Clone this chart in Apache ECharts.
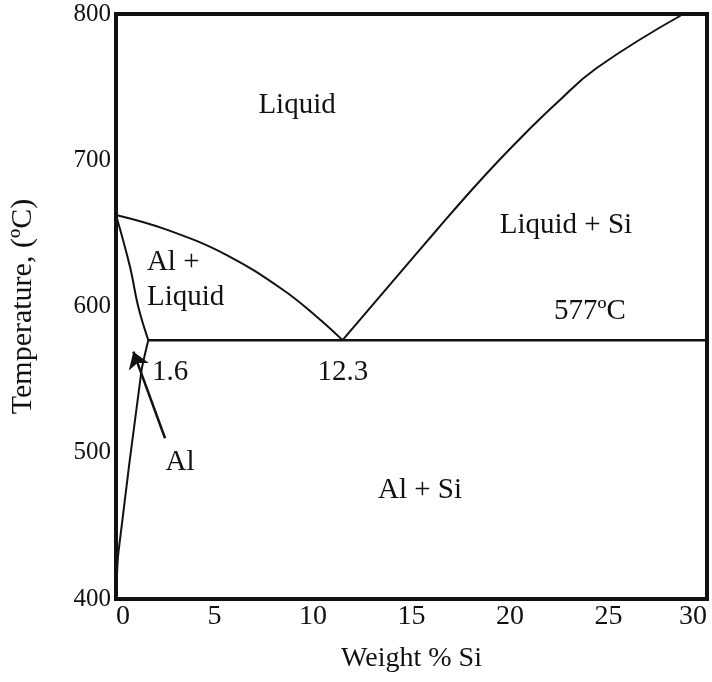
<!DOCTYPE html>
<html>
<head>
<meta charset="utf-8">
<script src="https://cdn.jsdelivr.net/npm/echarts@6/dist/echarts.min.js"></script>
<style>
  html, body { margin: 0; padding: 0; background: #fff; }
  #chart { width: 712px; height: 682px; }
</style>
</head>
<body>
<div id="chart"></div>
<script>
// Al-Si phase diagram (wt% Si, degC)
var liquidusAl = [[0, 662.6], [2.57, 652.6], [5.62, 635.2], [8.49, 611.3], [10.19, 593.0], [11.5, 577]];
var liquidusSi = [[11.5, 577], [16.28, 652.3], [18.56, 687.2], [20.59, 715.9], [22.37, 739.1], [24.4, 763.1], [28.8, 800]];
var solidusAl = [[0, 662.6], [0.71, 627.2], [1.13, 599.9], [1.64, 577]];
var solvusAl = [[1.64, 577], [1.3, 556.6], [0.12, 431.5], [0, 400]];
var eutectic = [[1.64, 577], [30, 577]];
var arrowFromTo = [[2.49, 509.9], [0.88, 569.1]];

// region / point annotations: [x, T, text, align]
var labels = [
  [9.19, 737.5, 'Liquid', 'center'],
  [1.57, 630.4, 'Al +', 'left'],
  [1.57, 606.5, 'Liquid', 'left'],
  [22.84, 655.7, 'Liquid + Si', 'center'],
  [24.06, 596.9, '577ºC', 'center'],
  [1.83, 555.2, '1.6', 'left'],
  [11.52, 555.2, '12.3', 'center'],
  [3.25, 493.7, 'Al', 'center'],
  [15.43, 474.5, 'Al + Si', 'center']
];

var xTicks = { min: 0, max: 30, interval: 5 };
var yTicks = { min: 400, max: 800, interval: 100 };

var FONT = 'Liberation Serif';
var INK = '#111';
var chart = echarts.init(document.getElementById('chart'));

function curve(data, smooth, width) {
  return {
    type: 'line', data: data, smooth: smooth, smoothMonotone: 'none',
    showSymbol: false, symbol: 'none',
    lineStyle: { color: '#111', width: width }, silent: true, z: 3
  };
}

var option = {
  animation: false,
  backgroundColor: '#fff',
  grid: {
    left: 116, right: 5, top: 14, bottom: 83,
    containLabel: false, outerBoundsMode: 'none',
    show: true, borderColor: '#111', borderWidth: 4, backgroundColor: 'transparent'
  },
  xAxis: {
    type: 'value', min: xTicks.min, max: xTicks.max, interval: xTicks.interval,
    name: 'Weight % Si', nameLocation: 'middle', nameGap: 46,
    nameTextStyle: { fontFamily: FONT, fontSize: 28, color: INK },
    axisLine: { show: false }, axisTick: { show: false }, splitLine: { show: false },
    axisLabel: { fontFamily: FONT, fontSize: 28, color: INK, margin: 4,
      alignMinLabel: 'left', alignMaxLabel: 'right' }
  },
  yAxis: {
    type: 'value', min: yTicks.min, max: yTicks.max, interval: yTicks.interval,
    name: 'Temperature, (ºC)', nameLocation: 'middle', nameGap: 78, nameRotate: 90,
    nameTextStyle: { fontFamily: FONT, fontSize: 30, color: INK },
    axisLine: { show: false }, axisTick: { show: false }, splitLine: { show: false },
    axisLabel: { fontFamily: FONT, fontSize: 25, color: INK, margin: 5 }
  },
  series: [
    curve(liquidusAl, 0.4, 2),
    curve(liquidusSi, 0.45, 2),
    curve(solidusAl, 0.4, 2),
    curve(solvusAl, 0.2, 2),
    curve(eutectic, false, 2.5),
    {
      type: 'line', data: [], silent: true,
      markLine: {
        silent: true, animation: false,
        symbol: ['none', 'arrow'], symbolSize: 16,
        lineStyle: { color: '#111', width: 2.5, type: 'solid' },
        label: { show: false },
        data: [[{ coord: arrowFromTo[0] }, { coord: arrowFromTo[1] }]]
      }
    },
    {
      type: 'scatter', symbolSize: 0, silent: true, z: 5,
      itemStyle: { color: '#111', opacity: 1 },
      data: labels.map(function (l) {
        return {
          value: [l[0], l[1]],
          label: {
            show: true, position: 'inside', formatter: l[2], align: l[3],
            fontFamily: FONT, fontSize: 29, color: INK,
            textBorderWidth: 0, textBorderColor: 'transparent'
          }
        };
      })
    }
  ]
};
chart.setOption(option);
</script>
</body>
</html>
